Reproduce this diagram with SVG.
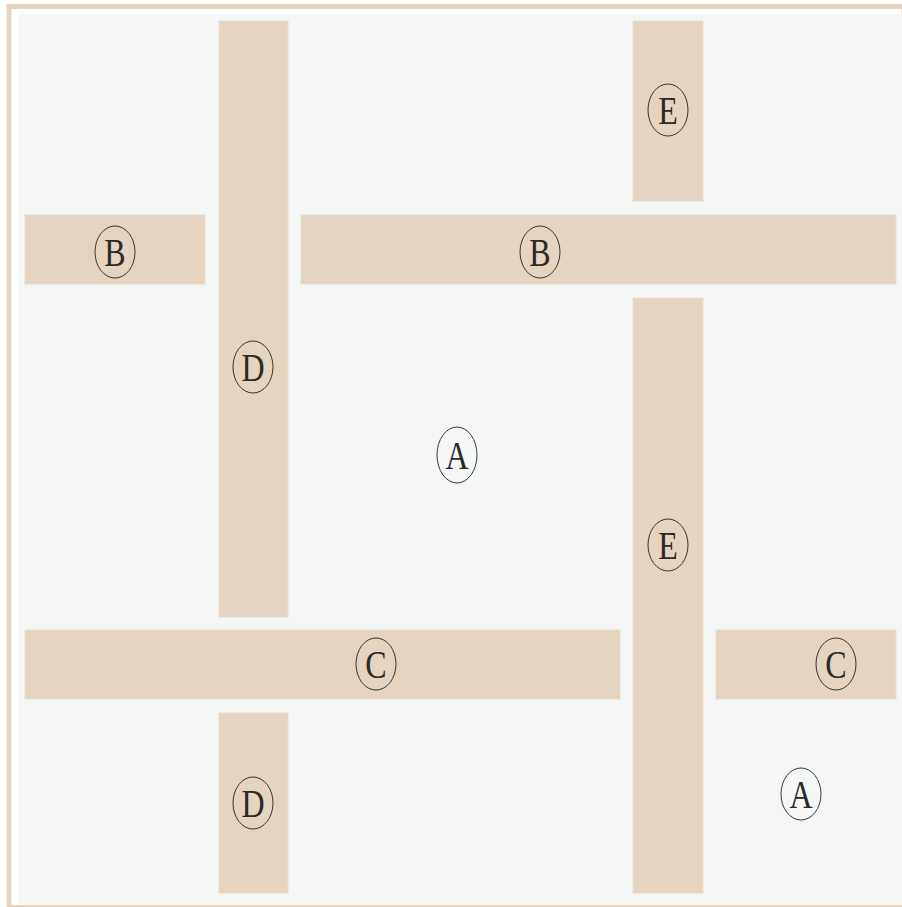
<svg xmlns="http://www.w3.org/2000/svg" width="902" height="907" viewBox="0 0 902 907">
<style>
.band{fill:#e5d4bf;stroke:#eadccb;stroke-width:1}
.lbl ellipse{fill:none;stroke:#222;stroke-width:0.9}
.lbl text{font-family:"Liberation Serif","DejaVu Serif",serif;font-size:40px;fill:#2a2a2a;text-anchor:middle}
</style>
<rect x="0" y="0" width="902" height="907" fill="#ffffff"/>
<rect x="9" y="6.5" width="895" height="901" fill="none" stroke="#e5d4bf" stroke-width="5"/>
<rect x="18" y="14" width="884" height="891" fill="#f5f7f7"/>
<g id="bands">
<rect id="D1" class="band" x="219" y="21" width="69" height="596"/>
<rect id="D2" class="band" x="219" y="713" width="69" height="180"/>
<rect id="B1" class="band" x="25" y="215" width="180" height="69"/>
<rect id="B2" class="band" x="301" y="215" width="595" height="69"/>
<rect id="E1" class="band" x="633" y="21" width="70" height="180"/>
<rect id="E2" class="band" x="633" y="298" width="70" height="595"/>
<rect id="C1" class="band" x="25" y="630" width="595" height="69"/>
<rect id="C2" class="band" x="716" y="630" width="180" height="69"/>
</g>
<g id="labels">
<g id="lE1" class="lbl"><ellipse cx="668" cy="110" rx="20" ry="26"/><text transform="translate(668,124) scale(0.8,1)">E</text></g>
<g id="lB1" class="lbl"><ellipse cx="115" cy="252" rx="20" ry="26"/><text transform="translate(115,266) scale(0.8,1)">B</text></g>
<g id="lB2" class="lbl"><ellipse cx="540" cy="252" rx="20" ry="26"/><text transform="translate(540,266) scale(0.8,1)">B</text></g>
<g id="lD1" class="lbl"><ellipse cx="253" cy="367" rx="20" ry="26"/><text transform="translate(253,381) scale(0.8,1)">D</text></g>
<g id="lA1" class="lbl"><ellipse cx="457" cy="455" rx="20" ry="28"/><text transform="translate(457,469) scale(0.8,1)">A</text></g>
<g id="lE2" class="lbl"><ellipse cx="668" cy="545" rx="20" ry="26"/><text transform="translate(668,559) scale(0.8,1)">E</text></g>
<g id="lC1" class="lbl"><ellipse cx="376" cy="664" rx="20" ry="26"/><text transform="translate(376,678) scale(0.8,1)">C</text></g>
<g id="lC2" class="lbl"><ellipse cx="836" cy="664" rx="20" ry="26"/><text transform="translate(836,678) scale(0.8,1)">C</text></g>
<g id="lD2" class="lbl"><ellipse cx="253" cy="803" rx="20" ry="26"/><text transform="translate(253,817) scale(0.8,1)">D</text></g>
<g id="lA2" class="lbl"><ellipse cx="801" cy="794" rx="20" ry="26"/><text transform="translate(801,808) scale(0.8,1)">A</text></g>
</g>
</svg>
